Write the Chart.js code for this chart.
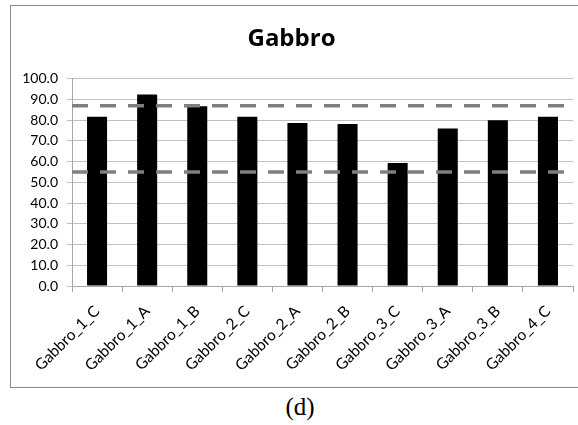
<!DOCTYPE html>
<html>
<head>
<meta charset="utf-8">
<script src="https://cdn.jsdelivr.net/npm/chart.js@4"></script>
<style>
  html, body { margin: 0; padding: 0; background: #fff; overflow: hidden; width: 578px; height: 425px; }
  #frame { position: absolute; left: 10px; top: 5px; width: 620px; height: 383px; border: 1.5px solid #8c8c8c; box-sizing: border-box; }
  #wrap { position: absolute; left: 0; top: 0; width: 578px; height: 390px; }
  #caption { position: absolute; left: 0; top: 393px; width: 600px; text-align: center; font-family: "Liberation Serif", "DejaVu Serif", serif; font-size: 25px; line-height: 28px; color: #000; }
</style>
</head>
<body>
<div id="frame"></div>
<div id="wrap"><canvas id="c"></canvas></div>
<div id="caption">(d)</div>
<script>
const categories = ["Gabbro_1_C","Gabbro_1_A","Gabbro_1_B","Gabbro_2_C","Gabbro_2_A","Gabbro_2_B","Gabbro_3_C","Gabbro_3_A","Gabbro_3_B","Gabbro_4_C"];
const values = [81.7, 92.4, 86.7, 81.7, 78.7, 78.2, 59.4, 76.0, 80.0, 81.7];
const upperRef = [87.0, 87.0, 87.0, 87.0, 87.0, 87.0, 87.0, 87.0, 87.0, 87.0];
const lowerRef = [55.0, 55.0, 55.0, 55.0, 55.0, 55.0, 55.0, 55.0, 55.0, 55.0];
const yTicks = [0,10,20,30,40,50,60,70,80,90,100];

const FONT = "Lato";
new Chart(document.getElementById('c'), {
  type: 'bar',
  data: {
    labels: categories,
    datasets: [
      { type: 'bar', data: values, backgroundColor: '#000', borderWidth: 0,
        barPercentage: 0.4, categoryPercentage: 1.0, grouped: false, order: 2 },
      { type: 'line', data: upperRef, xAxisID: 'x2', borderColor: '#7f7f7f', borderWidth: 3.5,
        borderDash: [16, 12], pointRadius: 0, fill: false, order: 1 },
      { type: 'line', data: lowerRef, xAxisID: 'x2', borderColor: '#7f7f7f', borderWidth: 3.5,
        borderDash: [16, 12], pointRadius: 0, fill: false, order: 1 }
    ]
  },
  options: {
    responsive: true,
    maintainAspectRatio: false,
    animation: false,
    devicePixelRatio: 1,
    layout: { padding: { left: 10, right: 5, top: 0, bottom: 0 } },
    plugins: {
      legend: { display: false },
      tooltip: { enabled: false },
      title: {
        display: true, text: 'Gabbro', color: '#000',
        font: { family: "Open Sans", size: 24, weight: 'bold' },
        padding: { top: 25, bottom: 25 }
      }
    },
    scales: {
      x: {
        type: 'category', offset: true,
        grid: { display: true, drawOnChartArea: false, drawTicks: true, tickLength: 6, offset: true, color: '#a6a6a6' },
        border: { display: true, color: '#a6a6a6', width: 1 },
        ticks: { color: '#000', font: { family: FONT, size: 15.5 }, minRotation: 45, maxRotation: 45, autoSkip: false, padding: 10 },
        afterFit: s => { s.height = 104; }
      },
      x2: {
        type: 'category', labels: categories, offset: false, display: false
      },
      y: {
        min: 0, max: 100,
        afterBuildTicks: s => { s.ticks = yTicks.map(v => ({ value: v })); },
        grid: { color: '#c0c0c0', tickLength: 5, drawTicks: true },
        border: { display: true, color: '#a6a6a6' },
        ticks: { color: '#000', font: { family: FONT, size: 14 }, padding: 9,
          callback: v => Number(v).toFixed(1) },
        afterFit: s => { s.width = 62; }
      }
    }
  }
});
</script>
</body>
</html>
